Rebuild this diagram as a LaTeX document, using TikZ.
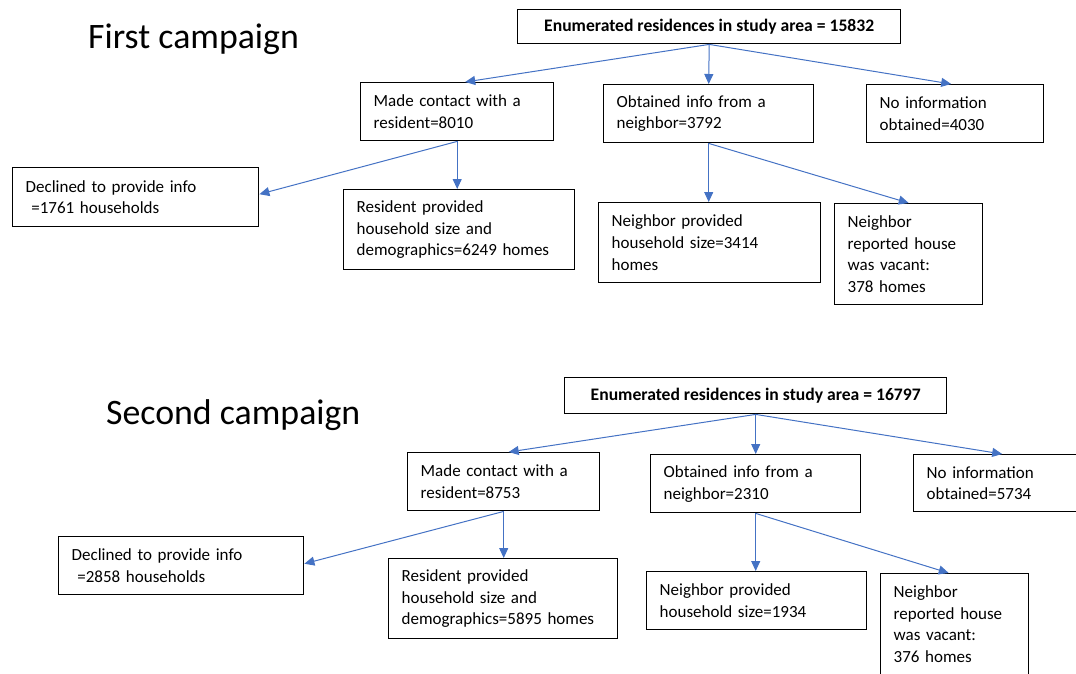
\documentclass[tikz,border=0pt]{standalone}
\usepackage{fontspec}
\setmainfont{Carlito}
\usepackage{xcolor}
\usetikzlibrary{positioning, arrows.meta}
\definecolor{linkblue}{RGB}{68,114,196}

\begin{document}
\begin{tikzpicture}[
    x=1pt, y=-1pt,
    box/.style 2 args={draw, line width=1.4pt, anchor=north west,
        inner xsep=13pt, inner ysep=0pt, minimum width=#1pt,
        text width=#1pt-26pt, minimum height=#2pt, align=left,
        font=\fontsize{17}{21.7}\selectfont},
    topbox/.style 2 args={draw, line width=1.4pt, anchor=north west,
        inner sep=0pt, minimum width=#1pt, minimum height=#2pt,
        font=\bfseries\fontsize{17.6}{20}\selectfont},
    heading/.style={anchor=base west, inner sep=0pt,
        font=\fontsize{35.8}{42}\selectfont},
    link/.style={draw=linkblue, line width=1pt,
        -{Triangle[length=10pt, width=9pt]}}
]
    \clip (0,0) rectangle (1076,673);

    % first campaign
    \node[heading] (title1) at (88,48) {First campaign};
    \node[topbox={383}{34}] (t1) at (517,9) {Enumerated residences in study area = 15832};
    \node[box={193}{58}] (contact1) at (360,82) {Made contact with a\\resident=8010};
    \node[box={210}{58}] (nbr1) at (603,84) {Obtained info from a\\neighbor=3792};
    \node[box={177}{58}] (noinfo1) at (866,84) {No information\\obtained=4030};
    \node[box={246}{59}] (decl1) at (12,167) {Declined to provide info\\\ =1761 households};
    \node[box={231}{80}] (res1) at (343,189) {Resident provided\\household size and\\demographics=6249 homes};
    \node[box={222}{80}] (size1) at (598,202) {Neighbor provided\\household size=3414\\homes};
    \node[box={148}{101}] (vac1) at (834,203) {Neighbor\\reported house\\was vacant:\\378 homes};

    \draw[link] (t1.south) -- ([xshift=8pt]contact1.north);
    \draw[link] (t1.south) -- (nbr1.north);
    \draw[link] (t1.south) -- ([xshift=-4pt]noinfo1.north);
    \draw[link] (contact1.south) -- ([yshift=3pt]decl1.east);
    \draw[link] (contact1.south) -- (res1.north -| contact1.south);
    \draw[link] (nbr1.south) -- (size1.north -| nbr1.south);
    \draw[link] (nbr1.south) -- (vac1.north);

    % second campaign
    \node[heading] (title2) at (106,424) {Second campaign};
    \node[topbox={382}{36}] (t2) at (564,377) {Enumerated residences in study area = 16797};
    \node[box={192}{58}] (contact2) at (407,452) {Made contact with a\\resident=8753};
    \node[box={210}{58}] (nbr2) at (650,454) {Obtained info from a\\neighbor=2310};
    \node[box={177}{57}] (noinfo2) at (913,454) {No information\\obtained=5734};
    \node[box={245}{58}] (decl2) at (58,536) {Declined to provide info\\\ =2858 households};
    \node[box={229}{80}] (res2) at (388,558) {Resident provided\\household size and\\demographics=5895 homes};
    \node[box={220}{58}] (size2) at (646,571) {Neighbor provided\\household size=1934};
    \node[box={148}{101}] (vac2) at (880,573) {Neighbor\\reported house\\was vacant:\\376 homes};

    \draw[link] (t2.south) -- ([xshift=5pt]contact2.north);
    \draw[link] (t2.south) -- (nbr2.north);
    \draw[link] (t2.south) -- (noinfo2.north);
    \draw[link] (contact2.south) -- ([yshift=2pt]decl2.east);
    \draw[link] (contact2.south) -- (res2.north -| contact2.south);
    \draw[link] (nbr2.south) -- (size2.north -| nbr2.south);
    \draw[link] (nbr2.south) -- ([xshift=-6pt]vac2.north);
\end{tikzpicture}
\end{document}
